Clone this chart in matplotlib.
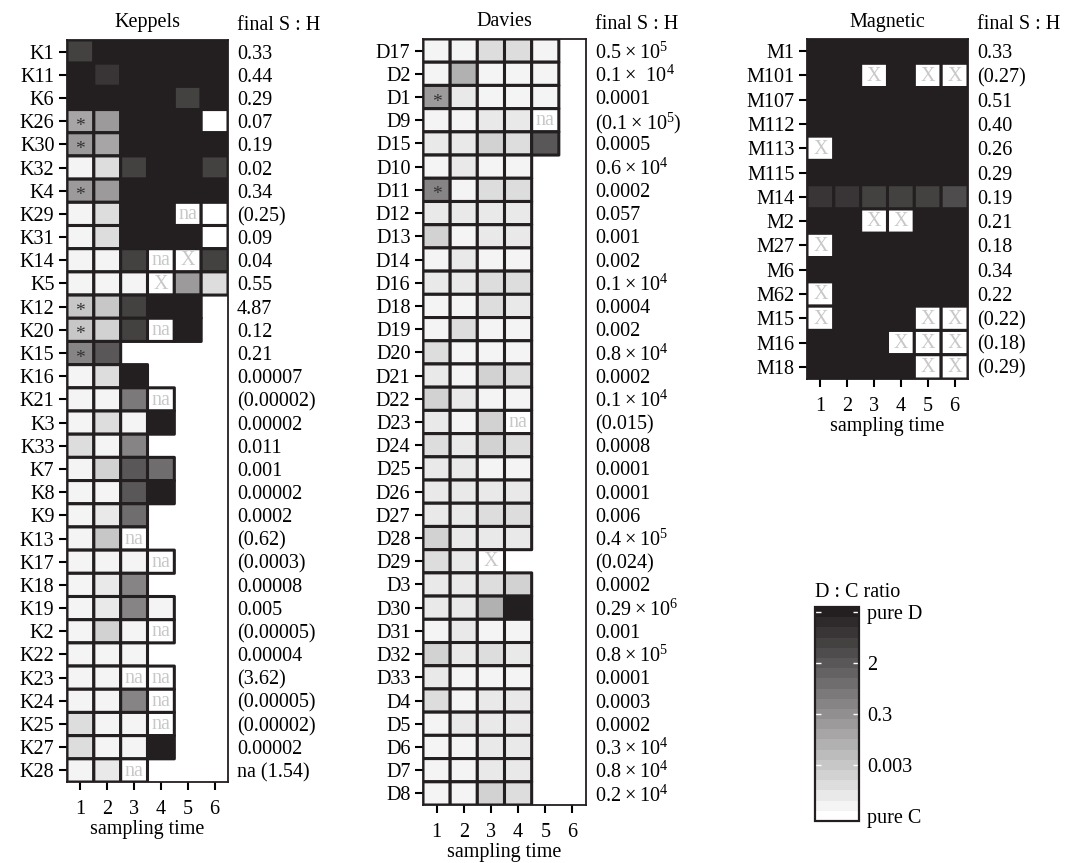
import numpy as np
import matplotlib.pyplot as plt
from matplotlib.colors import LinearSegmentedColormap, Normalize
from matplotlib.cm import ScalarMappable

plt.rcParams['font.family'] = ['Liberation Serif', 'DejaVu Serif']
plt.rcParams['mathtext.fontset'] = 'custom'
plt.rcParams['mathtext.rm'] = 'Liberation Serif'
plt.rcParams['mathtext.default'] = 'regular'

N = None  # not sampled

# D:C ratio as grey level, 0 = pure C ... 20 = pure D; 'na' / 'X' marked cells
keppels_sites = ['K1', 'K11', 'K6', 'K26', 'K30', 'K32', 'K4', 'K29', 'K31', 'K14', 'K5',
                 'K12', 'K20', 'K15', 'K16', 'K21', 'K3', 'K33', 'K7', 'K8', 'K9', 'K13',
                 'K17', 'K18', 'K19', 'K2', 'K22', 'K23', 'K24', 'K25', 'K27', 'K28']
keppels_cells = [
    [17, 20, 20, 20, 20, 20],
    [20, 18, 20, 20, 20, 20],
    [20, 20, 20, 20, 17, 20],
    [8, 9, 20, 20, 20, 0],
    [9, 8, 20, 20, 20, 20],
    [1, 3, 17, 20, 20, 17],
    [9, 9, 20, 20, 20, 20],
    [1, 3, 20, 20, 'na', 0],
    [1, 3, 20, 20, 20, 0],
    [1, 1, 17, 'na', 'X', 17],
    [1, 1, 1, 'X', 9, 3],
    [5, 5, 17, 20, 20],
    [5, 4, 17, 'na', 20],
    [11, 15],
    [1, 3, 20],
    [1, 1, 12, 'na'],
    [1, 3, 1, 20],
    [3, 1, 11],
    [1, 4, 15, 13],
    [1, 1, 15, 20],
    [1, 2, 13],
    [1, 5, 'na'],
    [1, 1, 1, 'na'],
    [1, 2, 11],
    [1, 2, 11, 1],
    [1, 4, 1, 'na'],
    [1, 1, 1],
    [1, 1, 'na', 'na'],
    [1, 1, 11, 'na'],
    [3, 1, 1, 'na'],
    [3, 1, 1, 20],
    [1, 2, 'na'],
]
keppels_ratio = ['0.33', '0.44', '0.29', '0.07', '0.19', '0.02', '0.34', '(0.25)', '0.09',
                 '0.04', '0.55', '4.87', '0.12', '0.21', '0.00007', '(0.00002)', '0.00002',
                 '0.011', '0.001', '0.00002', '0.0002', '(0.62)', '(0.0003)', '0.00008',
                 '0.005', '(0.00005)', '0.00004', '(3.62)', '(0.00005)', '(0.00002)',
                 '0.00002', 'na (1.54)']
keppels_star = ['K26', 'K30', 'K4', 'K12', 'K20', 'K15']

davies_sites = ['D17', 'D2', 'D1', 'D9', 'D15', 'D10', 'D11', 'D12', 'D13', 'D14', 'D16',
                'D18', 'D19', 'D20', 'D21', 'D22', 'D23', 'D24', 'D25', 'D26', 'D27', 'D28',
                'D29', 'D3', 'D30', 'D31', 'D32', 'D33', 'D4', 'D5', 'D6', 'D7', 'D8']
davies_cells = [
    [1, 1, 3, 3, 1],
    [1, 7, 1, 1, 1],
    [9, 2, 1, 1, 1],
    [1, 1, 2, 2, 'na'],
    [2, 2, 4, 3, 15],
    [1, 2, 1, 1],
    [11, 1, 3, 3],
    [2, 2, 2, 2],
    [4, 1, 2, 2],
    [1, 2, 1, 1],
    [2, 2, 3, 3],
    [1, 1, 3, 2],
    [1, 3, 1, 1],
    [3, 1, 1, 1],
    [2, 1, 4, 3],
    [4, 2, 1, 1],
    [2, 1, 4, 'na'],
    [3, 2, 4, 3],
    [2, 2, 1, 1],
    [2, 2, 2, 2],
    [2, 2, 3, 3],
    [4, 2, 2, 2],
    [3, 2, 'X'],
    [2, 2, 3, 4],
    [2, 2, 7, 20],
    [1, 2, 1, 1],
    [4, 2, 3, 2],
    [2, 1, 1, 1],
    [3, 1, 2, 2],
    [1, 2, 2, 2],
    [1, 1, 2, 2],
    [1, 1, 2, 2],
    [1, 1, 4, 3],
]
davies_ratio = [r'$0.5\times10^5$', r'$0.1\times\ 10^4$', '0.0001', r'$(0.1\times10^5)$',
                '0.0005', r'$0.6\times10^4$', '0.0002', '0.057', '0.001', '0.002',
                r'$0.1\times10^4$', '0.0004', '0.002', r'$0.8\times10^4$', '0.0002',
                r'$0.1\times10^4$', '(0.015)', '0.0008', '0.0001', '0.0001', '0.006',
                r'$0.4\times10^5$', '(0.024)', '0.0002', r'$0.29\times10^6$', '0.001',
                r'$0.8\times10^5$', '0.0001', '0.0003', '0.0002', r'$0.3\times10^4$',
                r'$0.8\times10^4$', r'$0.2\times10^4$']
davies_star = ['D1', 'D11']

magnetic_sites = ['M1', 'M101', 'M107', 'M112', 'M113', 'M115', 'M14', 'M2', 'M27',
                  'M6', 'M62', 'M15', 'M16', 'M18']
magnetic_cells = [
    [20, 20, 20, 20, 20, 20],
    [20, 20, 'X', 20, 'X', 'X'],
    [20, 20, 20, 20, 20, 20],
    [20, 20, 20, 20, 20, 20],
    ['X', 20, 20, 20, 20, 20],
    [20, 20, 20, 20, 20, 20],
    [18, 18, 17, 17, 17, 16],
    [20, 20, 'X', 'X', 20, 20],
    ['X', 20, 20, 20, 20, 20],
    [20, 20, 20, 20, 20, 20],
    ['X', 20, 20, 20, 20, 20],
    ['X', 20, 20, 20, 'X', 'X'],
    [20, 20, 20, 'X', 'X', 'X'],
    [20, 20, 20, 20, 'X', 'X'],
]
magnetic_ratio = ['0.33', '(0.27)', '0.51', '0.40', '0.26', '0.29', '0.19', '0.21', '0.18',
                  '0.34', '0.22', '(0.22)', '(0.18)', '(0.29)']

cbar_ticks = [20, 15, 10, 5, 0]
cbar_labels = ['pure D', '2', '0.3', '0.003', 'pure C']

BLACK = '#231f20'
cmap = LinearSegmentedColormap.from_list('dc', ['#ffffff', BLACK], N=21)
FS = 14.5
W, H = 1073, 863

fig = plt.figure(figsize=(W / 100, H / 100), dpi=100)


def px_rect(left, top, right, bottom):
    return [left / W, 1 - bottom / H, (right - left) / W, (bottom - top) / H]


def panel(rect, title, sites, cells, ratios, stars=()):
    ax = fig.add_axes(rect)
    nrow = len(sites)
    lev = np.full((nrow, 6), np.nan)
    for i, row in enumerate(cells):
        for j, v in enumerate(row):
            if v is None:
                continue
            if v in ('na', 'X'):
                lev[i, j] = 0
                ax.text(j + 1, i + 0.03, v, ha='center', va='center', color='#c8c8c8',
                        fontsize=14.5, zorder=4)
            else:
                lev[i, j] = v
        if sites[i] in stars:
            ax.text(1, i + 0.22, '*', ha='center', va='center', color='#333333',
                    fontsize=14, zorder=4)
    ax.pcolor(np.arange(0.5, 7), np.arange(-0.5, nrow), np.ma.masked_invalid(lev),
              cmap=cmap, vmin=-0.5, vmax=20.5, edgecolors=BLACK, linewidth=2.2)
    ax.set_xlim(0.5, 6.5)
    ax.set_ylim(nrow - 0.5, -0.5)
    ax.set_xticks(range(1, 7))
    ax.set_yticks(range(nrow), sites)
    ax.tick_params(length=6, width=1.5, labelsize=FS)
    ax.tick_params(axis='x', pad=7)
    ax.tick_params(axis='y', pad=3)
    ax.set_xlabel('sampling time', fontsize=FS, labelpad=1)
    for s in ax.spines.values():
        s.set_linewidth(1.3)
        s.set_color(BLACK)
    ax.set_title(title, fontsize=FS, pad=9)

    ax2 = ax.twinx()
    ax2.set_ylim(ax.get_ylim())
    ax2.set_yticks(range(nrow), ratios)
    ax2.tick_params(length=0, pad=6.5, labelsize=FS)
    for s in ax2.spines.values():
        s.set_visible(False)
    ax.annotate('final S : H', xy=(1, 1), xycoords='axes fraction', xytext=(6.5, 7),
                textcoords='offset points', ha='left', va='baseline', fontsize=FS)
    return ax


panel(px_rect(67, 40, 228, 782), 'Keppels', keppels_sites, keppels_cells, keppels_ratio,
      keppels_star)
panel(px_rect(423, 39, 586, 805), 'Davies', davies_sites, davies_cells, davies_ratio,
      davies_star)
panel(px_rect(807, 39, 968, 379), 'Magnetic', magnetic_sites, magnetic_cells, magnetic_ratio)

# colour key
cax = fig.add_axes(px_rect(815, 607, 859, 821))
cb = fig.colorbar(ScalarMappable(norm=Normalize(-0.5, 20.5), cmap=cmap), cax=cax,
                  ticks=cbar_ticks)
cb.set_ticklabels(cbar_labels)
cb.outline.set_linewidth(1.6)
cb.outline.set_edgecolor(BLACK)
cax.tick_params(direction='in', left=True, right=True, color='white', width=1, length=4,
                labelsize=FS, pad=6)
cax.set_title('D : C ratio', fontsize=FS, loc='left', pad=7)

fig.savefig('out.png', dpi=100)
